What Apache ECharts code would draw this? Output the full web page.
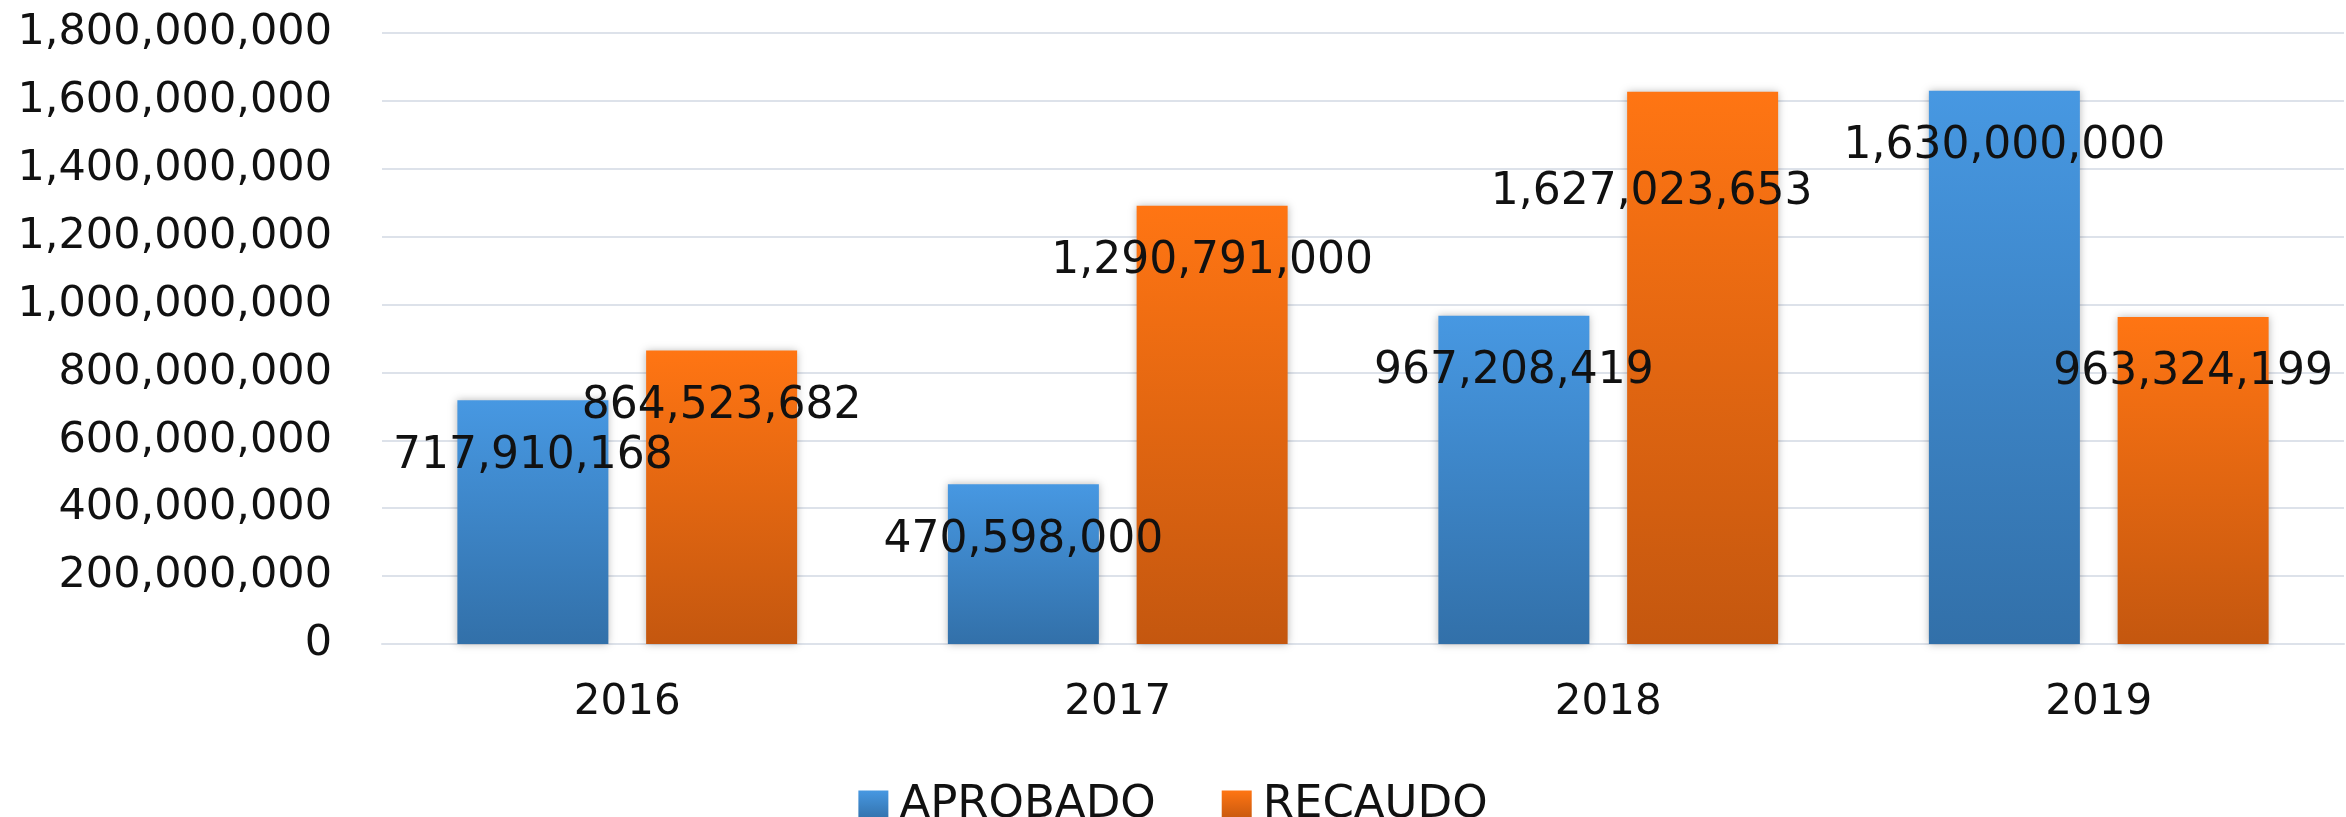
<!DOCTYPE html>
<html>
<head>
<meta charset="utf-8">
<title>Aprobado vs Recaudo</title>
<script src="https://cdn.jsdelivr.net/npm/echarts@6/dist/echarts.min.js"></script>
<style>
  html, body { margin: 0; padding: 0; background: #fff; }
  #chart { width: 2346px; height: 817px; }
</style>
</head>
<body>
<div id="chart"></div>
<script>
  // datos
  const years = ['2016', '2017', '2018', '2019']
  const aprobado = [717910168, 470598000, 967208419, 1630000000]
  const recaudo = [864523682, 1290791000, 1627023653, 963324199]

  const font = 'DejaVu Sans'
  const textColor = '#111'
  const fmt = v => Number(v).toLocaleString('en-US')

  function grad (top, bottom) {
    return new echarts.graphic.LinearGradient(0, 0, 0, 1, [
      { offset: 0, color: top },
      { offset: 1, color: bottom }
    ])
  }

  const barLabel = {
    show: true,
    position: ['50%', 56],
    align: 'center',
    verticalAlign: 'middle',
    fontFamily: font,
    fontSize: 44,
    color: textColor,
    formatter: p => fmt(p.value)
  }

  const shadow = {
    shadowBlur: 8,
    shadowColor: 'rgba(0,0,0,0.28)'
  }

  // la etiqueta de RECAUDO 2018 esta movida a mano en el original
  const recaudoData = recaudo.map((v, i) => i === 2
    ? { value: v, label: { position: ['50%', 101], offset: [-51, 0] } }
    : v)

  const chart = echarts.init(document.getElementById('chart'))
  chart.setOption({
    animation: false,
    grid: {
      left: 382,
      right: 2,
      top: 33,
      bottom: 173,
      containLabel: false,
      outerBoundsMode: 'none'
    },
    legend: {
      top: 778,
      left: 'center',
      icon: 'rect',
      itemWidth: 30,
      itemHeight: 30,
      itemGap: 66,
      itemStyle: { shadowBlur: 0 },
      textStyle: {
        fontFamily: font,
        fontSize: 45,
        color: textColor,
        padding: [0, 0, 0, 6]
      },
      data: ['APROBADO', 'RECAUDO']
    },
    xAxis: {
      type: 'category',
      data: years,
      axisLine: { lineStyle: { color: '#dde2ea', width: 2 } },
      axisTick: { show: false },
      axisLabel: {
        fontFamily: font,
        fontSize: 42,
        color: textColor,
        margin: 38
      }
    },
    yAxis: {
      type: 'value',
      min: 0,
      max: 1800000000,
      interval: 200000000,
      axisLine: { show: false },
      axisTick: { show: false },
      splitLine: { lineStyle: { color: '#dde2ea', width: 2 } },
      axisLabel: {
        fontFamily: font,
        fontSize: 43,
        color: textColor,
        margin: 50,
        formatter: fmt
      }
    },
    series: [{
      name: 'APROBADO',
      type: 'bar',
      barWidth: 151,
      barGap: '25%',
      itemStyle: Object.assign({ color: grad('#4798e2', '#3270a9') }, shadow),
      label: barLabel,
      data: aprobado
    }, {
      name: 'RECAUDO',
      type: 'bar',
      barWidth: 151,
      barGap: '25%',
      itemStyle: Object.assign({ color: grad('#ff7513', '#c4570f') }, shadow),
      label: barLabel,
      data: recaudoData
    }]
  })
</script>
</body>
</html>
